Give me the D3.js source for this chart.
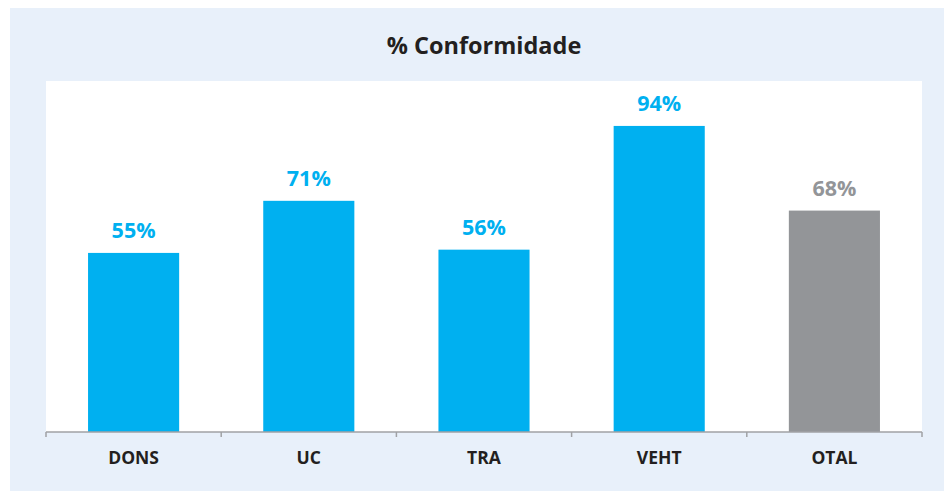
<!DOCTYPE html>
<html lang="en">
<head>
    <meta charset="UTF-8">
    <title>% Conformidade</title>
    <script src="https://d3js.org/d3.v7.min.js"></script>
    <style>
        body { margin: 0; background: #fff; }
        text { font-family: 'Open Sans', sans-serif; font-weight: bold; }
    </style>
</head>
<body>
    <svg id="chart" width="944" height="491"></svg>
    <script>
        // chart data
        const categories = ["DONS", "UC", "TRA", "VEHT", "OTAL"];
        const values = [0.55, 0.71, 0.56, 0.94, 0.68];
        const barColors = ["#00B0F0", "#00B0F0", "#00B0F0", "#00B0F0", "#939598"];
        const title = "% Conformidade";

        const svg = d3.select("#chart");
        const plot = { left: 46, right: 922, top: 81, bottom: 432 };

        // outer panel
        svg.append("rect")
            .attr("x", 10).attr("y", 8)
            .attr("width", 934).attr("height", 483)
            .attr("fill", "#E8F0FA");

        // plot area
        svg.append("rect")
            .attr("x", plot.left).attr("y", plot.top)
            .attr("width", plot.right - plot.left).attr("height", plot.bottom - plot.top)
            .attr("fill", "#fff");

        svg.append("text")
            .attr("x", 484).attr("y", 54)
            .attr("text-anchor", "middle")
            .style("font-size", "23.5px")
            .attr("fill", "#231F20")
            .text(title);

        const x = d3.scaleBand()
            .domain(categories)
            .range([plot.left, plot.right])
            .paddingInner(0.48)
            .paddingOuter(0.24);

        const x0 = d3.scaleBand().domain(categories).range([plot.left, plot.right]);

        const y = d3.scaleLinear()
            .domain([0, 1.078])
            .range([plot.bottom, plot.top]);

        svg.selectAll(".bar")
            .data(values)
            .enter().append("rect")
            .attr("class", "bar")
            .attr("x", (d, i) => x(categories[i]))
            .attr("y", d => y(d))
            .attr("width", x.bandwidth())
            .attr("height", d => y(0) - y(d))
            .attr("fill", (d, i) => barColors[i]);

        svg.selectAll(".val")
            .data(values)
            .enter().append("text")
            .attr("class", "val")
            .attr("x", (d, i) => x(categories[i]) + x.bandwidth() / 2)
            .attr("y", d => y(d) - 15)
            .attr("text-anchor", "middle")
            .style("font-size", "21.5px")
            .attr("fill", (d, i) => barColors[i])
            .text(d => d3.format(".0%")(d));

        // axis: ticks on category boundaries
        const axisG = svg.append("g").attr("transform", `translate(0,${plot.bottom})`);
        const bounds = categories.map(c => x0(c)).concat([plot.right]);
        axisG.append("line")
            .attr("x1", plot.left).attr("x2", plot.right)
            .attr("stroke", "#A0A2A5").attr("stroke-width", 1.5);
        axisG.selectAll(".tick")
            .data(bounds)
            .enter().append("line")
            .attr("x1", d => d).attr("x2", d => d)
            .attr("y1", 0).attr("y2", 5)
            .attr("stroke", "#A0A2A5").attr("stroke-width", 1.5);
        axisG.selectAll(".cat")
            .data(categories)
            .enter().append("text")
            .attr("x", d => x0(d) + x0.bandwidth() / 2)
            .attr("y", 32)
            .attr("text-anchor", "middle")
            .style("font-size", "17.5px")
            .attr("fill", "#231F20")
            .text(d => d);
    </script>
</body>
</html>
